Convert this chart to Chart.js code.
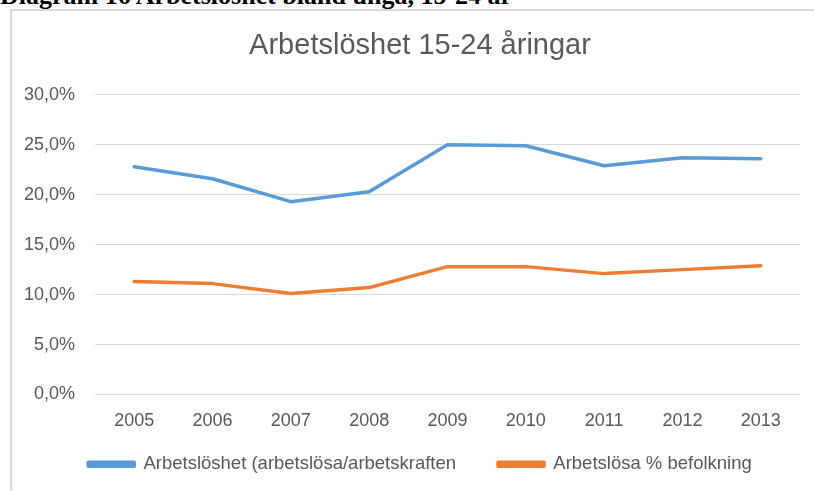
<!DOCTYPE html>
<html>
<head>
<meta charset="utf-8">
<script src="https://cdn.jsdelivr.net/npm/chart.js@4"></script>
<style>
  body { margin:0; background:#fff; width:814px; height:491px; overflow:hidden; position:relative; }
  #heading { position:absolute; left:0; top:-19px; font:bold 26px "Liberation Serif", serif; color:#000; white-space:nowrap; }
  #box { position:absolute; left:10px; top:9px; width:802px; height:480px; border-left:2px solid #d9d9d9; border-top:2px solid #d9d9d9; }
</style>
</head>
<body>
<div id="heading">Diagram 16 Arbetslöshet bland unga, 15-24 år</div>
<div id="box"><canvas id="chartCanvas" width="802" height="480"></canvas></div>
<script>
const years = ["2005","2006","2007","2008","2009","2010","2011","2012","2013"]
const arbetskraften = [22.8, 21.6, 19.3, 20.3, 25.0, 24.9, 22.9, 23.7, 23.6]
const befolkning = [11.3, 11.1, 10.1, 10.7, 12.8, 12.8, 12.1, 12.5, 12.9]
const seriesNames = ["Arbetslöshet (arbetslösa/arbetskraften", "Arbetslösa % befolkning"]
const chartTitle = "Arbetslöshet 15-24 åringar"

const textColor = "#595959"
const fontFamily = "'Liberation Sans', Arial, sans-serif"
const tickSize = 18

const fmt = v => v.toFixed(1).replace(".", ",") + "%"

const ctx = document.getElementById("chartCanvas")

// widest y label, so the mirrored labels can be right aligned left of the plot
const mctx = document.createElement("canvas").getContext("2d")
mctx.font = tickSize + "px " + fontFamily
const widest = mctx.measureText(fmt(30)).width

new Chart(ctx,{
    type:"line",
    data:{
        labels:years,
        datasets:[{
            label:seriesNames[0],
            data:arbetskraften,
            borderColor:"#5b9bd5",
            backgroundColor:"#5b9bd5",
            borderWidth:3.5,
            pointRadius:0,
            tension:0
        },{
            label:seriesNames[1],
            data:befolkning,
            borderColor:"#ed7d31",
            backgroundColor:"#ed7d31",
            borderWidth:3.5,
            pointRadius:0,
            tension:0
        }]
    },
    options:{
        responsive:false,
        animation:false,
        layout:{ padding:{ left:28, right:14, top:0, bottom:7.5 } },
        elements:{ line:{ borderCapStyle:"round", borderJoinStyle:"round" } },
        plugins:{
            title:{
                display:true,
                text:chartTitle,
                color:textColor,
                font:{ family:fontFamily, size:29, weight:"normal" },
                padding:{ top:18, bottom:31 }
            },
            legend:{
                position:"bottom",
                labels:{
                    color:textColor,
                    font:{ family:fontFamily, size:18.5 },
                    boxWidth:46,
                    boxHeight:4,
                    padding:42
                }
            },
            tooltip:{ enabled:false }
        },
        scales:{
            x:{
                offset:true,
                afterFit:s => { s.height = 18.5 },
                grid:{ display:false, drawTicks:false },
                border:{ display:false },
                ticks:{ color:textColor, font:{ family:fontFamily, size:tickSize }, mirror:true, padding:-37, maxRotation:0 }
            },
            y:{
                min:0,
                max:30,
                afterFit:s => { s.width = 55 },
                grid:{ color:"#d9d9d9", drawTicks:false },
                border:{ display:false },
                ticks:{
                    stepSize:5,
                    mirror:true,
                    crossAlign:"far",
                    padding:-20 - widest,
                    color:textColor,
                    font:{ family:fontFamily, size:tickSize },
                    callback:fmt
                }
            }
        }
    }
})
</script>
</body>
</html>
